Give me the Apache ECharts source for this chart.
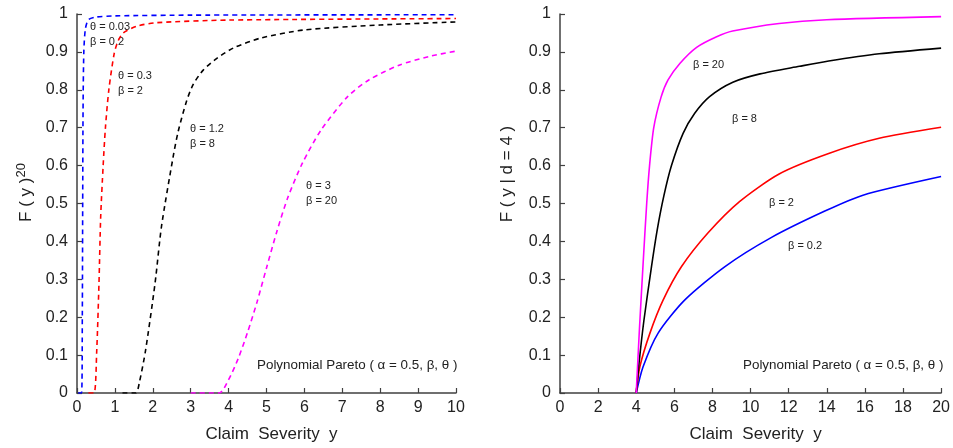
<!DOCTYPE html>
<html><head><meta charset="utf-8">
<script src="https://cdn.jsdelivr.net/npm/echarts@6/dist/echarts.min.js"></script>
<style>html,body{margin:0;padding:0;background:#fff}#c{width:953px;height:448px}</style>
</head><body><div id="c"></div>
<script>
// Left panel: F(y)^20, dashed curves (x, y)
const leftBlue = [[0.03,0],[0.12,0],[0.14,0.2],[0.15,0.5],[0.16,0.75],[0.18,0.9],[0.22,0.96],[0.3,0.985],[0.5,0.992],[1,0.995],[3,0.997],[10,0.998]];
const leftRed = [[0.3,0],[0.45,0],[0.52,0.11],[0.58,0.29],[0.625,0.465],[0.69,0.6],[0.75,0.7],[0.84,0.8],[0.98,0.895],[1.08,0.928],[1.22,0.95],[1.58,0.968],[2.1,0.977],[4,0.984],[10,0.988]];
const leftBlack = [[1.2,0],[1.55,0],[1.65,0.03],[1.81,0.113],[2.06,0.29],[2.23,0.44],[2.54,0.625],[2.67,0.69],[2.89,0.77],[3.07,0.815],[3.33,0.852],[3.69,0.883],[4.12,0.91],[4.83,0.936],[6,0.958],[8,0.971],[10,0.979]];
const leftMagenta = [[3,0],[3.75,0],[4.0,0.035],[4.25,0.09],[4.5,0.16],[4.75,0.24],[5.0,0.33],[5.27,0.425],[5.56,0.515],[5.95,0.607],[6.44,0.694],[7.14,0.782],[7.7,0.826],[8.5,0.865],[9.29,0.888],[10,0.902]];
// Right panel: F(y | d = 4), solid curves
const rightBlue = [[4,0],[4.36,0.069],[5.15,0.158],[6.54,0.245],[8.64,0.333],[11.08,0.41],[13.9,0.48],[15.9,0.522],[20,0.571]];
const rightRed = [[4,0],[4.19,0.069],[4.72,0.158],[5.41,0.245],[6.37,0.333],[7.76,0.422],[9.42,0.505],[11.5,0.578],[14.1,0.632],[16.75,0.672],[20,0.701]];
const rightBlack = [[4,0],[4.15,0.08],[4.4,0.19],[4.8,0.333],[5.1,0.43],[5.45,0.52],[5.85,0.6],[6.46,0.685],[7.07,0.738],[7.85,0.782],[9.07,0.82],[10.5,0.842],[12.57,0.862],[14.1,0.876],[16.75,0.895],[20,0.91]];
const rightMagenta = [[4,0],[4.17,0.17],[4.36,0.34],[4.55,0.5],[4.7,0.6],[4.92,0.7],[5.3,0.78],[5.67,0.826],[6.3,0.87],[7.17,0.912],[8.22,0.94],[9.06,0.955],[11.5,0.975],[14,0.985],[20,0.993]];
// Labels
const leftLabels = ['θ = 0.03\nβ = 0.2','θ = 0.3\nβ = 2','θ = 1.2\nβ = 8','θ = 3\nβ = 20'];
const rightLabels = ['β = 20','β = 8','β = 2','β = 0.2'];
const noteText = 'Polynomial Pareto ( α = 0.5, β, θ )';

const FONT = 'Liberation Sans, Arial, sans-serif';
const axisCol = '#404040';
function xAxis(gi, max, interval) {
  return {type:'value', gridIndex:gi, min:0, max:max, interval:interval,
    name:'{n|Claim  Severity  y}', nameLocation:'middle', nameGap:33,
    nameTextStyle:{fontSize:17, color:'#222', fontFamily:FONT,
      rich:{n:{fontSize:17, color:'#222', fontFamily:FONT, padding:[0,0,0,10]}}},
    axisLine:{show:true, lineStyle:{color:axisCol, width:1.5}},
    axisTick:{show:true, inside:true, length:5, lineStyle:{color:axisCol, width:1.2}},
    axisLabel:{fontSize:16, color:'#222', fontFamily:FONT, margin:7},
    splitLine:{show:false}};
}
function yAxis(gi, name, gap, rich) {
  return {type:'value', gridIndex:gi, min:0, max:1, interval:0.1,
    name:name, nameLocation:'middle', nameGap:gap,
    nameTextStyle:{fontSize:17, color:'#222', fontFamily:FONT, rich:rich},
    axisLine:{show:true, lineStyle:{color:axisCol, width:1.5}},
    axisTick:{show:true, inside:true, length:5, lineStyle:{color:axisCol, width:1.2}},
    axisLabel:{fontSize:16, color:'#222', fontFamily:FONT, margin:9},
    splitLine:{show:false}};
}
function ser(data, color, dashed, xi) {
  return {type:'line', xAxisIndex:xi, yAxisIndex:xi, data:data, showSymbol:false, symbol:'none',
    smooth:0.25, lineStyle:{color:color, width:1.6, type: dashed ? [5,4] : 'solid'}, silent:true};
}
function txt(x, y, s, size) {
  return {type:'text', left:x, top:y, silent:true,
    style:{text:s, fontSize:size||11, fill:'#222', fontFamily:FONT, lineHeight:15}};
}
const chart = echarts.init(document.getElementById('c'), null, {renderer:'canvas'});
chart.setOption({
  animation:false,
  backgroundColor:'#fff',
  grid:[{left:77, right:497, top:14, bottom:55}, {left:560, right:11, top:14, bottom:55}],
  xAxis:[xAxis(0,10,1), xAxis(1,20,2)],
  yAxis:[
    yAxis(0, '{n|F ( y )}{s|20}', 42, {
      n:{fontSize:17, color:'#222', fontFamily:FONT, lineHeight:20, verticalAlign:'bottom', padding:[0,0,0,22]},
      s:{fontSize:13, color:'#222', fontFamily:FONT, lineHeight:20, verticalAlign:'top'}}),
    yAxis(1, '{n|F ( y | d = 4 )}', 44, {
      n:{fontSize:17, color:'#222', fontFamily:FONT, padding:[0,0,0,59]}})
  ],
  series:[
    ser(leftBlue,'#0000ff',true,0), ser(leftRed,'#ff0000',true,0),
    ser(leftBlack,'#000000',true,0), ser(leftMagenta,'#ff00ff',true,0),
    ser(rightBlue,'#0000ff',false,1), ser(rightRed,'#ff0000',false,1),
    ser(rightBlack,'#000000',false,1), ser(rightMagenta,'#ff00ff',false,1)
  ],
  graphic:[
    txt(90,19,leftLabels[0]), txt(118,68,leftLabels[1]), txt(190,121,leftLabels[2]), txt(306,178,leftLabels[3]),
    txt(693,57,rightLabels[0]), txt(732,111,rightLabels[1]), txt(769,195,rightLabels[2]), txt(788,238,rightLabels[3]),
    txt(257,358,noteText,13.4), txt(743,358,noteText,13.4)
  ]
});
</script></body></html>
